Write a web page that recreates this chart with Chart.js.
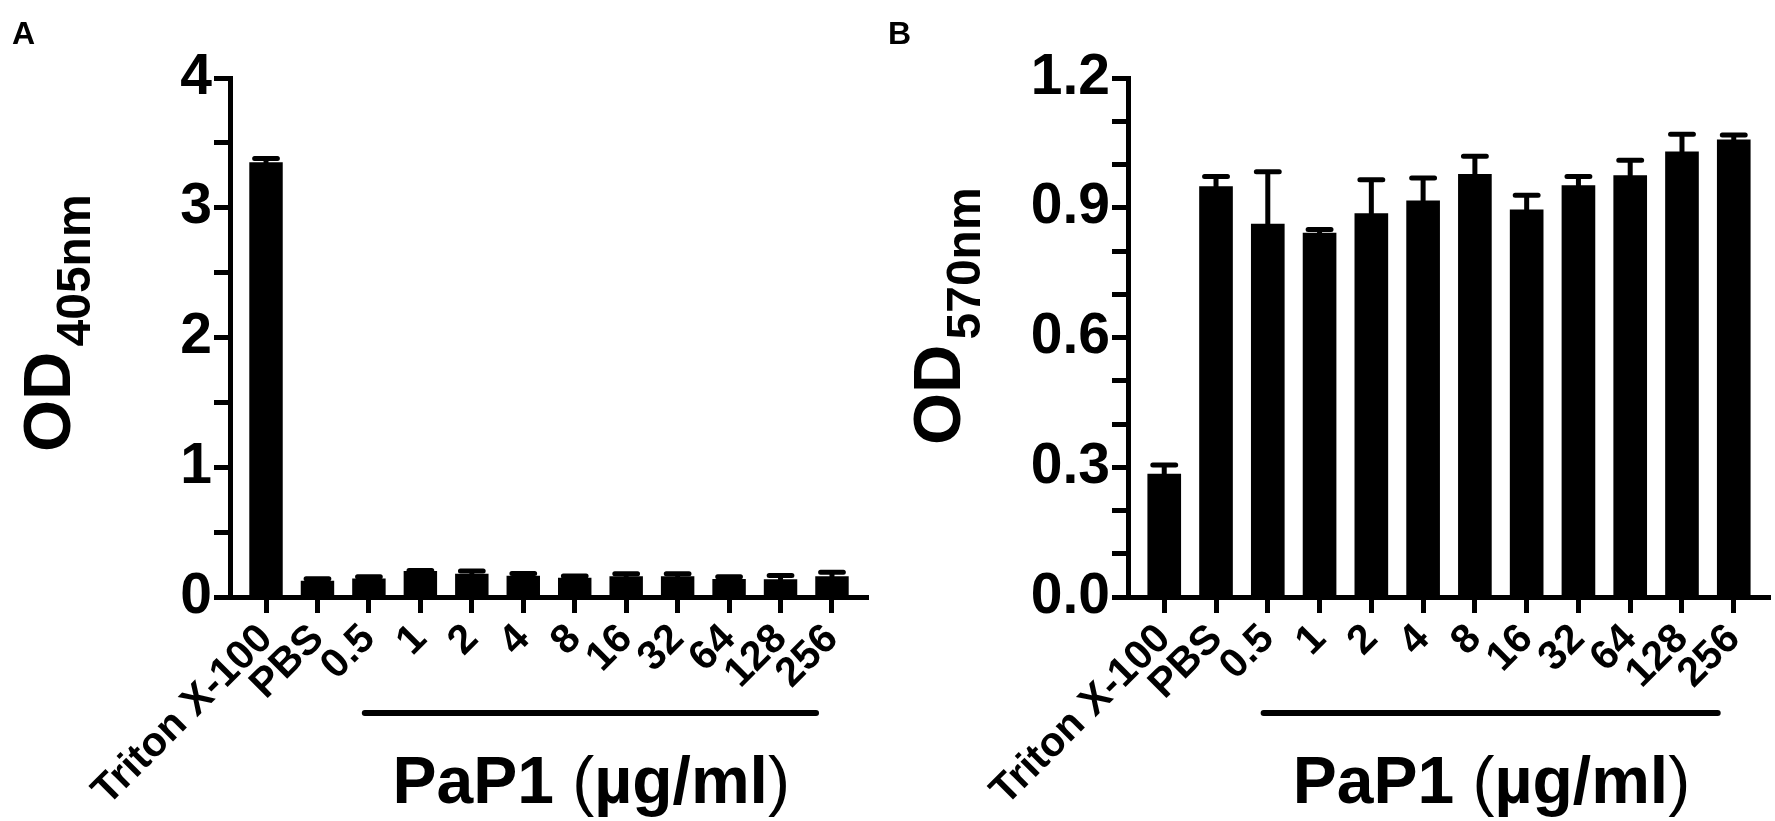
<!DOCTYPE html>
<html lang="en">
<head>
<meta charset="UTF-8">
<title>PaP1 OD405 / OD570</title>
<script src="https://cdn.jsdelivr.net/npm/chart.js@4.4.1/dist/chart.umd.min.js"></script>
<style>
  body { margin: 0; background: #fff; }
  canvas { position: absolute; top: 0; }
  #chartA { left: 0; }
  #chartB { left: 885px; }
</style>
</head>
<body>
<canvas id="chartA" width="890" height="821"></canvas>
<canvas id="chartB" width="890" height="821"></canvas>
<script>
// values (mean and upper SD)
const categories = ['Triton X-100', 'PBS', '0.5', '1', '2', '4', '8', '16', '32', '64', '128', '256'];
const od405Mean = [3.35, 0.125, 0.143, 0.20, 0.18, 0.164, 0.148, 0.16, 0.16, 0.138, 0.136, 0.16];
const od405Sd   = [0.03, 0.015, 0.013, 0.005, 0.02, 0.018, 0.013, 0.02, 0.02, 0.018, 0.03, 0.03];
const od570Mean = [0.285, 0.95, 0.863, 0.842, 0.887, 0.917, 0.978, 0.896, 0.952, 0.975, 1.03, 1.058];
const od570Sd   = [0.02, 0.022, 0.12, 0.008, 0.078, 0.052, 0.041, 0.033, 0.02, 0.035, 0.04, 0.01];
const od405Ticks = [0, 1, 2, 3, 4];
const od570Ticks = [0, 0.3, 0.6, 0.9, 1.2];

const FONT = '"Liberation Sans", Arial, sans-serif';
Chart.defaults.font.family = FONT;
Chart.defaults.color = '#000';

// one-sided error bars, GraphPad style
const errorBars = {
    id: 'errorBars',
    afterDatasetsDraw(chart, args, opts) {
        const ctx = chart.ctx;
        const y = chart.scales.y;
        const meta = chart.getDatasetMeta(0);
        ctx.save();
        ctx.strokeStyle = '#000';
        ctx.lineWidth = 5;
        ctx.lineCap = 'round';
        meta.data.forEach((bar, i) => {
            const top = y.getPixelForValue(opts.mean[i] + opts.sd[i]);
            const half = bar.width * 0.34;
            ctx.beginPath();
            ctx.moveTo(bar.x, bar.y);
            ctx.lineTo(bar.x, top);
            ctx.moveTo(bar.x - half, top);
            ctx.lineTo(bar.x + half, top);
            ctx.stroke();
        });
        ctx.restore();
    }
};

// panel letter, y title with subscript, bracket line and x title
const decor = {
    id: 'decor',
    afterDraw(chart, args, o) {
        const ctx = chart.ctx;
        const x = chart.scales.x;
        ctx.save();
        ctx.fillStyle = '#000';
        ctx.strokeStyle = '#000';
        ctx.textBaseline = 'alphabetic';
        ctx.textAlign = 'left';

        ctx.font = 'bold 32px ' + FONT;
        ctx.fillText(o.letter, o.letterX, 44);

        ctx.save();
        ctx.translate(o.titleX, o.titleY);
        ctx.rotate(-Math.PI / 2);
        ctx.font = 'bold 67px ' + FONT;
        ctx.fillText('OD', 0, 0);
        const w = ctx.measureText('OD').width;
        ctx.font = 'bold 48px ' + FONT;
        ctx.fillText(o.sub, w + 5, 20);
        ctx.restore();

        ctx.lineWidth = 6;
        ctx.lineCap = 'round';
        ctx.beginPath();
        ctx.moveTo(x.getPixelForValue(1.92), 713);
        ctx.lineTo(x.getPixelForValue(10.69), 713);
        ctx.stroke();

        const parts = [['PaP1 ', 'bold'], ['(', 'normal'], ['µg/ml', 'bold'], [')', 'normal']];
        let total = 0;
        parts.forEach(p => { ctx.font = p[1] + ' 66px ' + FONT; total += ctx.measureText(p[0]).width; });
        let px = x.getPixelForValue(6.32) - total / 2;
        parts.forEach(p => {
            ctx.font = p[1] + ' 66px ' + FONT;
            ctx.fillText(p[0], px, 803);
            px += ctx.measureText(p[0]).width;
        });
        ctx.restore();
    }
};

function makeChart(id, mean, sd, yMax, step, labels, fmt, yWidth, padRight, extra) {
    const ctx = document.getElementById(id).getContext('2d');
    return new Chart(ctx, {
        type: 'bar',
        data: {
            datasets: [{
                data: mean.map((v, i) => ({ x: i, y: v })),
                backgroundColor: '#000',
                borderWidth: 0,
                barPercentage: 0.65,
                categoryPercentage: 1
            }]
        },
        options: {
            responsive: false,
            animation: false,
            layout: { padding: { left: 0, right: padRight, top: 78, bottom: 0 } },
            plugins: {
                legend: { display: false },
                tooltip: { enabled: false },
                errorBars: { mean: mean, sd: sd },
                decor: extra
            },
            scales: {
                x: {
                    type: 'linear',
                    min: -0.7,
                    max: 11.7,
                    offset: false,
                    afterBuildTicks: s => { s.ticks = categories.map((c, i) => ({ value: i })); },
                    afterFit: s => { s.height = 224; },
                    ticks: {
                        callback: v => categories[v],
                        autoSkip: false,
                        minRotation: 45,
                        maxRotation: 45,
                        padding: 2,
                        color: '#000',
                        font: { size: 41, weight: 'bold' }
                    },
                    grid: { offset: false, drawOnChartArea: false, tickLength: 16, tickWidth: 5, tickColor: '#000' },
                    border: { color: '#000', width: 5 }
                },
                y: {
                    min: 0,
                    max: yMax,
                    afterFit: s => { s.width = yWidth; },
                    ticks: {
                        stepSize: step,
                        autoSkip: false,
                        callback: v => labels.some(t => Math.abs(t - v) < 1e-6) ? fmt(v) : '',
                        padding: 2,
                        color: '#000',
                        font: { size: 57, weight: 'bold' }
                    },
                    grid: { drawOnChartArea: false, tickLength: 16, tickWidth: 5, tickColor: '#000' },
                    border: { color: '#000', width: 5 }
                }
            }
        },
        plugins: [errorBars, decor]
    });
}

makeChart('chartA', od405Mean, od405Sd, 4, 0.5, od405Ticks, v => String(Math.round(v)), 230, 22,
    { letter: 'A', letterX: 12, titleX: 70, titleY: 452, sub: '405nm' });
makeChart('chartB', od570Mean, od570Sd, 1.2, 0.1, od570Ticks, v => v.toFixed(1), 243, 5,
    { letter: 'B', letterX: 3, titleX: 75, titleY: 445, sub: '570nm' });
</script>
</body>
</html>
